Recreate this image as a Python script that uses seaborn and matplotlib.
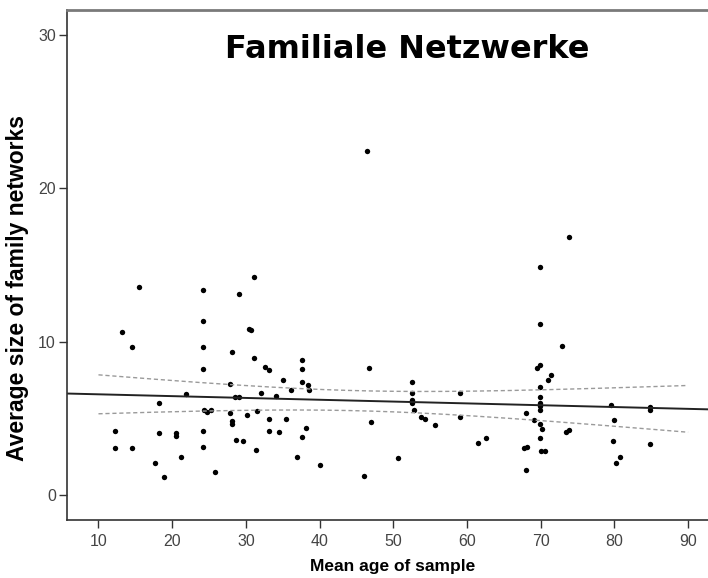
import numpy as np
import pandas as pd
import seaborn as sns
import matplotlib
matplotlib.use("Agg")
import matplotlib.pyplot as plt

# ---- data ----
mean_age = [
    15.45, 24.13, 29.1, 31.1, 24.13, 13.15, 30.4, 30.65, 14.6, 24.13,
    28.1, 31.1, 37.57, 37.65, 32.6, 33.1, 24.13, 46.75, 35.1, 37.57,
    38.47, 38.5, 36.1, 27.85, 32.1, 34.1, 21.83, 28.56, 29.0, 18.2,
    24.3, 24.77, 25.3, 27.85, 30.2, 31.55, 33.1, 35.44, 28.07, 28.1,
    47.0, 12.2, 18.2, 20.5, 20.5, 24.13, 33.2, 34.45, 38.2, 37.57,
    28.66, 29.56, 12.2, 14.55, 24.13, 31.37, 21.15, 36.9, 17.67, 40.05,
    18.85, 25.85, 46.0, 46.4, 73.9, 69.95, 69.95, 72.9, 69.45, 69.95,
    71.45, 71.0, 52.54, 52.54, 52.54, 52.54, 52.77, 53.8, 54.3, 55.7,
    59.1, 59.0, 50.64, 61.5, 62.6, 69.95, 69.95, 69.95, 69.95, 69.95,
    68.05, 69.13, 69.9, 70.2, 69.86, 67.7, 68.1, 70.0, 70.55, 68.0,
    73.43, 73.84, 79.5, 79.95, 79.8, 80.8, 80.2, 84.8, 84.8, 84.8,
]
network_size = [
    13.59, 13.37, 13.13, 14.22, 11.35, 10.65, 10.83, 10.76, 9.63, 9.63,
    9.33, 8.92, 8.78, 8.22, 8.33, 8.15, 8.24, 8.31, 7.48, 7.35,
    7.2, 6.85, 6.83, 7.22, 6.65, 6.48, 6.59, 6.41, 6.39, 5.98,
    5.52, 5.39, 5.57, 5.33, 5.24, 5.46, 4.98, 4.98, 4.83, 4.65,
    4.76, 4.15, 4.02, 4.02, 3.85, 4.2, 4.17, 4.13, 4.35, 3.8,
    3.61, 3.5, 3.04, 3.04, 3.15, 2.91, 2.48, 2.5, 2.09, 1.93,
    1.17, 1.52, 1.22, 22.46, 16.8, 14.89, 11.13, 9.7, 8.3, 8.48,
    7.81, 7.52, 7.39, 6.65, 6.2, 6.02, 5.54, 5.11, 4.94, 4.57,
    6.67, 5.11, 2.41, 3.41, 3.7, 7.07, 6.4, 6.02, 5.8, 5.54,
    5.37, 4.89, 4.63, 4.33, 3.7, 3.07, 3.1, 2.89, 2.87, 1.63,
    4.13, 4.24, 5.87, 4.91, 3.5, 2.46, 2.11, 5.72, 5.52, 3.31,
]
x_ticks = [10, 20, 30, 40, 50, 60, 70, 80, 90]
y_ticks = [0, 10, 20, 30]
title = "Familiale Netzwerke"
x_label = "Mean age of sample"
y_label = "Average size of family networks"

df = pd.DataFrame({"age": mean_age, "size": network_size})

sns.set_theme(style="white")
plt.rcParams["font.family"] = ["Liberation Sans", "DejaVu Sans"]

fig = plt.figure(figsize=(7.08, 5.78), dpi=100)
ax = fig.add_axes([67 / 708, 1 - 520 / 578, 1 - 67 / 708, (520 - 10) / 578])

xlim = (5.73, 92.7)
ylim = (-1.63, 31.63)
ax.set_xlim(*xlim)
ax.set_ylim(*ylim)

sns.regplot(data=df, x="age", y="size", ax=ax, ci=None, truncate=False,
            scatter_kws=dict(s=15, color="black", linewidths=0, alpha=1),
            line_kws=dict(color="#222222", lw=1.4))

# 95% confidence band of the mean (dashed lines)
xv = np.asarray(mean_age, float)
yv = np.asarray(network_size, float)
n = len(xv)
b, a = np.polyfit(xv, yv, 1)
resid = yv - (a + b * xv)
s = np.sqrt(np.sum(resid ** 2) / (n - 2))
sxx = np.sum((xv - xv.mean()) ** 2)
t = 1.984
xg = np.linspace(10, 90, 200)
yhat = a + b * xg
half = t * s * np.sqrt(1 / n + (xg - xv.mean()) ** 2 / sxx)
for sign in (1, -1):
    ax.plot(xg, yhat + sign * half, color="#9a9a9a", lw=1.0,
            linestyle=(0, (3, 2)))

ax.set_xlim(*xlim)
ax.set_ylim(*ylim)
ax.set_xticks(x_ticks)
ax.set_yticks(y_ticks)
ax.tick_params(axis="both", which="major", direction="out", length=6,
               width=1.0, color="#333333", labelcolor="#444444",
               labelsize=11.5, bottom=True, left=True)
ax.tick_params(axis="x", pad=4)
ax.tick_params(axis="y", pad=2)

for side in ("left", "bottom"):
    ax.spines[side].set_color("#333333")
    ax.spines[side].set_linewidth(1.2)
ax.spines["top"].set_color("#7a7a7a")
ax.spines["top"].set_linewidth(2.0)
ax.spines["right"].set_visible(False)

ax.set_xlabel(x_label, fontsize=12.5, fontweight="bold", color="black")
ax.set_ylabel(y_label, fontsize=16.5, fontweight="bold", color="black",
              va="center")
ax.xaxis.label.set_va("center")
ax.xaxis.set_label_coords((393 - 67) / 641, -(566 - 520) / 510)
ax.yaxis.set_label_coords((18 - 67) / 641, (520 - 288) / 510)

ax.text((407 - 67) / 641, (520 - 50) / 510, title, transform=ax.transAxes,
        ha="center", va="center", fontsize=23, fontweight="bold",
        family=["DejaVu Sans"], color="black")

fig.savefig("out.png", dpi=100)
